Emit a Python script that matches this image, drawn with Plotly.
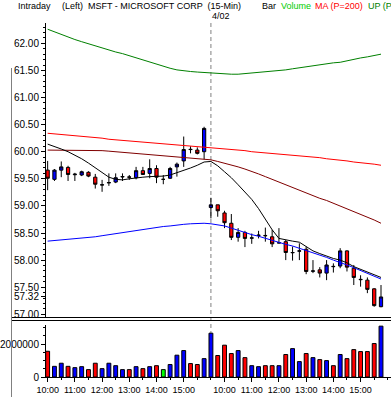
import plotly.graph_objects as go

# ---------------- data ----------------
bar_index = list(range(50))

opens = [59.66, 59.49, 59.66, 59.71, 59.575, 59.57, 59.62, 59.53, 59.385, 59.425,
         59.44, 59.535, 59.535, 59.52, 59.65, 59.60, 59.69, 59.49, 59.51, 59.72,
         59.83, 60.045, 60.03, 60.00, 58.97, 59.02, 58.87, 58.68, 58.42, 58.51,
         58.405, 58.455, 58.455, 58.43, 58.315, 58.34, 58.135, 58.165, 58.20, 57.795,
         57.82, 57.76, 57.885, 57.89, 58.17, 57.85, 57.645, 57.63, 57.47, 57.14]
highs = [59.83, 59.68, 59.82, 59.74, 59.61, 59.65, 59.64, 59.59, 59.48, 59.60,
         59.60, 59.60, 59.57, 59.72, 59.72, 59.86, 59.75, 59.57, 59.72, 59.80,
         60.28, 60.10, 60.08, 60.46, 59.15, 59.02, 58.91, 58.85, 58.59, 58.54,
         58.49, 58.54, 58.60, 58.56, 58.59, 58.37, 58.25, 58.31, 58.25, 58.00,
         57.87, 58.00, 57.94, 58.22, 58.18, 57.91, 57.72, 57.68, 57.48, 57.54]
lows = [59.29, 59.46, 59.53, 59.46, 59.46, 59.55, 59.53, 59.32, 59.26, 59.37,
        59.42, 59.46, 59.48, 59.49, 59.57, 59.51, 59.42, 59.40, 59.50, 59.54,
        59.72, 59.97, 59.95, 59.86, 58.77, 58.80, 58.59, 58.37, 58.34, 58.24,
        58.30, 58.40, 58.34, 58.24, 58.31, 58.00, 57.99, 58.00, 57.74, 57.76,
        57.68, 57.63, 57.77, 57.85, 57.79, 57.54, 57.51, 57.39, 57.14, 57.13]
closes = [59.51, 59.66, 59.72, 59.58, 59.585, 59.63, 59.55, 59.40, 59.39, 59.43,
          59.52, 59.54, 59.53, 59.65, 59.58, 59.69, 59.53, 59.49, 59.69, 59.77,
          60.04, 60.04, 59.97, 60.43, 59.02, 58.91, 58.69, 58.42, 58.51, 58.40,
          58.41, 58.46, 58.45, 58.30, 58.32, 58.14, 58.14, 58.17, 57.79, 57.80,
          57.76, 57.91, 57.88, 58.17, 57.87, 57.68, 57.64, 57.46, 57.16, 57.32]
volumes = [1570000, 650000, 840000, 650000, 570000, 630000, 450000, 840000, 510000, 840000,
           690000, 450000, 450000, 630000, 510000, 630000, 690000, 450000, 760000, 1330000,
           1610000, 820000, 760000, 1120000, 2670000, 1310000, 1940000, 1430000, 1610000, 1180000,
           690000, 630000, 690000, 690000, 690000, 1370000, 1730000, 940000, 1430000, 1180000,
           1060000, 1000000, 690000, 1370000, 1120000, 1670000, 1550000, 1550000, 2040000, 3100000]

ma_200 = [60.34, 60.33, 60.32, 60.31, 60.29, 60.28, 60.27, 60.26, 60.25, 60.23,
          60.22, 60.21, 60.20, 60.18, 60.17, 60.16, 60.15, 60.14, 60.13, 60.12,
          60.11, 60.10, 60.09, 60.08, 60.07, 60.06, 60.05, 60.04, 60.03, 60.02,
          60.00, 59.99, 59.98, 59.97, 59.96, 59.95, 59.93, 59.92, 59.91, 59.90,
          59.89, 59.87, 59.86, 59.84, 59.83, 59.81, 59.80, 59.78, 59.77, 59.75]
upper_band = [62.26, 62.21, 62.16, 62.11, 62.07, 62.03, 61.99, 61.95, 61.91, 61.87,
              61.84, 61.81, 61.77, 61.74, 61.70, 61.65, 61.61, 61.57, 61.54, 61.51,
              61.49, 61.48, 61.47, 61.46, 61.45, 61.44, 61.43, 61.43, 61.43, 61.44,
              61.45, 61.46, 61.47, 61.48, 61.50, 61.51, 61.53, 61.55, 61.57, 61.59,
              61.61, 61.62, 61.64, 61.65, 61.68, 61.70, 61.73, 61.75, 61.78, 61.80]
lower_band = [58.35, 58.36, 58.37, 58.38, 58.39, 58.40, 58.42, 58.43, 58.45, 58.47,
              58.49, 58.50, 58.52, 58.54, 58.56, 58.58, 58.60, 58.62, 58.63, 58.65,
              58.66, 58.67, 58.68, 58.68, 58.67, 58.65, 58.63, 58.59, 58.55, 58.50,
              58.47, 58.44, 58.40, 58.36, 58.33, 58.29, 58.26, 58.22, 58.17, 58.13,
              58.09, 58.05, 58.00, 57.96, 57.91, 57.86, 57.81, 57.76, 57.71, 57.65]
ma_mid = [60.03, 60.03, 60.03, 60.03, 60.03, 60.03, 60.02, 60.02, 60.02, 60.01,
          60.00, 59.99, 59.98, 59.97, 59.96, 59.95, 59.94, 59.93, 59.92, 59.91,
          59.90, 59.89, 59.88, 59.87, 59.85, 59.82, 59.79, 59.75, 59.72, 59.68,
          59.64, 59.59, 59.54, 59.49, 59.44, 59.39, 59.33, 59.28, 59.23, 59.19,
          59.14, 59.10, 59.05, 59.00, 58.95, 58.90, 58.85, 58.80, 58.74, 58.68]
ma_fast = [60.14, 60.10, 60.05, 60.00, 59.94, 59.87, 59.79, 59.70, 59.61, 59.53,
           59.49, 59.48, 59.50, 59.52, 59.53, 59.54, 59.54, 59.55, 59.57, 59.61,
           59.65, 59.70, 59.75, 59.81, 59.82, 59.74, 59.63, 59.52, 59.39, 59.26,
           59.12, 58.95, 58.75, 58.56, 58.40, 58.37, 58.35, 58.33, 58.25, 58.17,
           58.12, 58.07, 58.03, 58.00, 57.95, 57.88, 57.83, 57.78, 57.73, 57.68]

price_tickvals = [57.00, 57.32, 57.50, 58.00, 58.50, 59.00, 59.50, 60.00, 60.50, 61.00, 61.50, 62.00]
price_ticktext = ["57.00", "57.32", "57.50", "58.00", "58.50", "59.00", "59.50",
                  "60.00", "60.50", "61.00", "61.50", "62.00"]
time_tickvals = [0, 4, 8, 12, 16, 20, 26, 30, 34, 38, 42, 46]
time_ticktext = ["10:00", "11:00", "12:00", "13:00", "14:00", "15:00",
                 "10:00", "11:00", "12:00", "13:00", "14:00", "15:00"]
day_break_index = 24
day_break_label = "4/02"

# ---------------- geometry helpers ----------------
W, H = 391, 397
ML, MR, MT, MB = 36, 0, 23, 20
PW, PH = W - ML - MR, H - MT - MB


def px_x(px):
    return (px - ML) / PW


def px_y(py):
    return (H - MB - py) / PH


FONT = "Liberation Sans"

vol_colors = []
for o, c in zip(opens, closes):
    if c > o:
        vol_colors.append("#0000ff")
    elif c < o:
        vol_colors.append("#ff0000")
    else:
        vol_colors.append("#00ff00")

fig = go.Figure()

line_specs = [
    (upper_band, "#008000"),
    (lower_band, "#0000ff"),
    (ma_200, "#ff0000"),
    (ma_mid, "#800000"),
    (ma_fast, "#000000"),
]
for vals, col in line_specs:
    fig.add_trace(go.Scatter(x=bar_index, y=vals, mode="lines",
                             line=dict(color=col, width=1), xaxis="x", yaxis="y",
                             hoverinfo="skip", showlegend=False))

fig.add_trace(go.Candlestick(
    x=bar_index, open=opens, high=highs, low=lows, close=closes,
    increasing=dict(line=dict(color="black", width=1), fillcolor="#0000ff"),
    decreasing=dict(line=dict(color="black", width=1), fillcolor="#ff0000"),
    whiskerwidth=0, xaxis="x", yaxis="y", showlegend=False))

fig.add_trace(go.Bar(x=bar_index, y=volumes, marker=dict(color=vol_colors,
                     line=dict(color="black", width=1)),
                     xaxis="x2", yaxis="y2", showlegend=False))

x_range = [-0.243, 50.47]
fig.update_layout(
    width=W, height=H,
    margin=dict(l=ML, r=MR, t=MT, b=MB),
    paper_bgcolor="white", plot_bgcolor="white",
    font=dict(family=FONT, size=10, color="black"),
    bargap=0.43, boxgap=0.32,
    xaxis=dict(domain=[0, 1], anchor="y", range=x_range, showticklabels=False,
               showgrid=False, zeroline=False, showline=False, ticks="",
               rangeslider=dict(visible=False)),
    yaxis=dict(domain=[px_y(317), 1], range=[56.95, 62.375], tickvals=price_tickvals,
               ticktext=price_ticktext, ticks="outside", ticklen=4, tickcolor="black",
               showline=True, linecolor="black", linewidth=1, showgrid=False, zeroline=False,
               tickfont=dict(size=10),
               minor=dict(tickmode="linear", tick0=57, dtick=0.1, ticks="outside",
                          ticklen=2, tickcolor="black")),
    xaxis2=dict(domain=[0, 1], anchor="y2", matches="x", range=x_range,
                tickvals=time_tickvals, ticktext=time_ticktext, ticks="outside",
                ticklen=4, tickcolor="black", showline=True, linecolor="black",
                showgrid=False, zeroline=False, tickfont=dict(size=9),
                minor=dict(tickmode="linear", tick0=0, dtick=2, ticks="outside",
                           ticklen=2, tickcolor="black")),
    yaxis2=dict(domain=[0, px_y(325)], range=[0, 3.17e6], tickvals=[0, 2000000],
                ticktext=["0", "2000000"], ticks="outside", ticklen=4, tickcolor="black",
                showline=True, linecolor="black", showgrid=False, zeroline=False,
                tickfont=dict(size=10),
                minor=dict(tickmode="linear", tick0=0, dtick=500000, ticks="outside",
                           ticklen=2, tickcolor="black")),
)

shapes = [
    dict(type="line", xref="x", yref="paper", x0=day_break_index, x1=day_break_index,
         y0=0, y1=1, line=dict(color="#808080", width=1, dash="4px,3px"), layer="below"),
    dict(type="line", xref="paper", yref="paper", x0=px_x(0), x1=1,
         y0=px_y(317.5), y1=px_y(317.5), line=dict(color="black", width=1)),
    dict(type="line", xref="paper", yref="paper", x0=px_x(0), x1=1,
         y0=px_y(320.5), y1=px_y(320.5), line=dict(color="black", width=1)),
    dict(type="line", xref="paper", yref="paper", x0=px_x(0.5), x1=px_x(0.5),
         y0=px_y(68), y1=px_y(397), line=dict(color="#808080", width=1)),
]
fig.update_layout(shapes=shapes)

header = [
    ("Intraday", 5, "black"),
    ("(Left)", 50, "black"),
    ("MSFT - MICROSOFT CORP  (15-Min)", 77, "black"),
    ("Bar", 256, "black"),
    ("Volume", 276, "#00cc00"),
    ("MA (P=200)", 311, "#ff0000"),
    ("UP (P=", 365, "#008000"),
]
annotations = []
for txt, xp, col in header:
    annotations.append(dict(text=txt, xref="paper", yref="paper", x=px_x(xp), y=px_y(6.5),
                            xanchor="left", yanchor="middle", showarrow=False,
                            font=dict(family=FONT, size=9, color=col)))
annotations.append(dict(text=day_break_label, xref="x", yref="paper", x=day_break_index,
                        y=px_y(16), xanchor="center", xshift=10, yanchor="middle",
                        showarrow=False, font=dict(family=FONT, size=9, color="black")))
fig.update_layout(annotations=annotations)

fig.write_html("out.html", config={"displayModeBar": False},
               post_script="document.body.style.margin='0';document.body.style.overflow='hidden';")
